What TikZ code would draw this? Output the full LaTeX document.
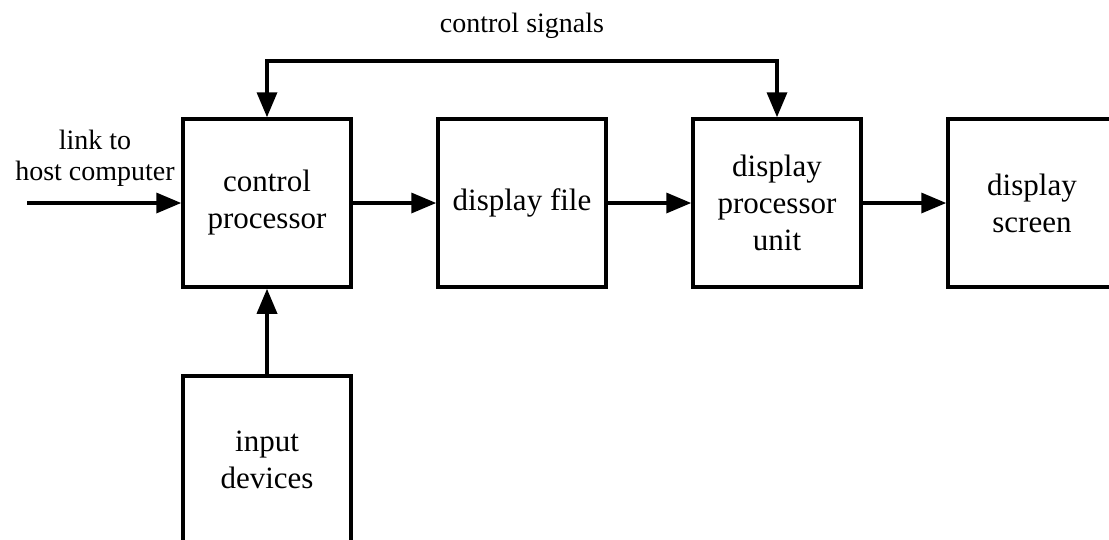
\documentclass[tikz,border=0pt]{standalone}
\usepackage{fontspec}
\setmainfont{Liberation Serif}
\usetikzlibrary{arrows.meta}

\tikzset{
  unit/.style={draw, line width=3.5pt, minimum width=168pt, minimum height=168pt,
    inner sep=0pt, align=center, font=\fontsize{31}{37}\selectfont},
  flow/.style={line width=3.5pt, -{Triangle[length=25pt,width=20pt]}},
  label text/.style={align=center, inner sep=0pt, font=\fontsize{28}{31}\selectfont}
}

\begin{document}
\begin{tikzpicture}[x=1pt, y=-1pt]
  \useasboundingbox (0,0) rectangle (1109,539);
  \clip (0,0) rectangle (1109,539);

  % processing chain
  \node[unit] (cp)  at (267,203) {control\\processor};
  \node[unit] (df)  at (522,203) {display file};
  \node[unit] (dpu) at (777,203) {display\\processor\\unit};
  \node[unit] (ds)  at (1032,203) {display\\screen};
  \node[unit] (in)  at (267,460) {input\\devices};

  % incoming host link
  \coordinate (host) at (27,203);
  \node[label text] (hostlbl) at (95,158) {link to\\host computer};

  % control signal loop label
  \node[label text, anchor=base] (sig) at (522,32) {control signals};

  \draw[flow] (host) -- (cp.west);
  \draw[flow] (cp.east) -- (df.west);
  \draw[flow] (df.east) -- (dpu.west);
  \draw[flow] (dpu.east) -- (ds.west);
  \draw[flow] (in.north) -- (cp.south);

  % control signals feed both processors
  \coordinate (loopL) at (267,61);
  \draw[flow, {Triangle[length=25pt,width=20pt]}-{Triangle[length=25pt,width=20pt]}]
    (cp.north) -- (loopL) -| (dpu.north);
\end{tikzpicture}
\end{document}
